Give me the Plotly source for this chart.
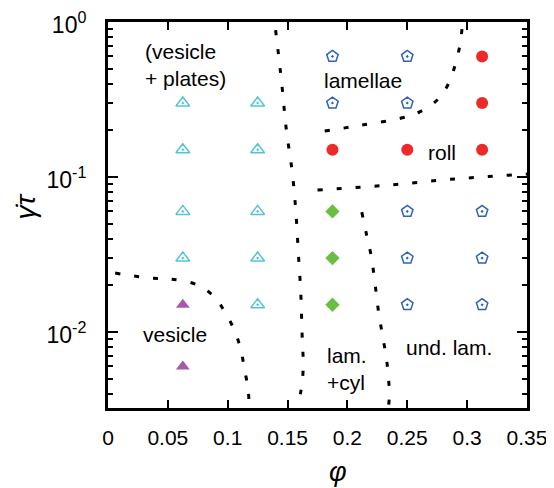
import math
import plotly.graph_objects as go

# ---------------- data ----------------
# vesicle + plates (cyan open triangles)
vp_phi = [0.0625, 0.0625, 0.0625, 0.0625, 0.125, 0.125, 0.125, 0.125, 0.125]
vp_rate = [0.3, 0.15, 0.06, 0.03, 0.3, 0.15, 0.06, 0.03, 0.015]
# vesicle (purple filled triangles)
ves_phi = [0.0625, 0.0625]
ves_rate = [0.015, 0.006]
# lamellae + cylinders (green diamonds)
lc_phi = [0.1875, 0.1875, 0.1875]
lc_rate = [0.06, 0.03, 0.015]
# lamellae / undulated lamellae (blue open pentagons)
lam_phi = [0.1875, 0.25, 0.1875, 0.25, 0.25, 0.25, 0.25, 0.3125, 0.3125, 0.3125]
lam_rate = [0.6, 0.6, 0.3, 0.3, 0.06, 0.03, 0.015, 0.06, 0.03, 0.015]
# roll (red circles)
roll_phi = [0.3125, 0.3125, 0.1875, 0.25, 0.3125]
roll_rate = [0.6, 0.3, 0.15, 0.15, 0.15]

# phase boundaries (dotted)
b1_phi = [0.140, 0.145, 0.149, 0.154, 0.157, 0.159, 0.161, 0.162, 0.163, 0.161, 0.158]
b1_rate = [0.887, 0.410, 0.201, 0.106, 0.0586, 0.0324, 0.0181, 0.0103, 0.00569, 0.0041, 0.00324]
b2_phi = [0.006, 0.035, 0.052, 0.075, 0.089, 0.098, 0.106, 0.111, 0.114, 0.117, 0.118]
b2_rate = [0.0240, 0.0223, 0.0220, 0.0201, 0.0168, 0.0133, 0.0101, 0.00766, 0.00577, 0.00429, 0.00324]
b3_phi = [0.212, 0.216, 0.220, 0.223, 0.226, 0.230, 0.233, 0.235, 0.234]
b3_rate = [0.0594, 0.0423, 0.0305, 0.0207, 0.0135, 0.00887, 0.00640, 0.00393, 0.00316]
b4_phi = [0.175, 0.212, 0.245, 0.279, 0.312, 0.350]
b4_rate = [0.0824, 0.0861, 0.0902, 0.0957, 0.100, 0.1045]
b5_phi = [0.181, 0.212, 0.245, 0.260, 0.275, 0.283, 0.289, 0.294, 0.296]
b5_rate = [0.198, 0.216, 0.240, 0.262, 0.314, 0.381, 0.498, 0.711, 0.957]

# region labels
lab_text = ["(vesicle<br>+ plates)", "lamellae", "roll", "vesicle", "lam.<br>+cyl", "und. lam."]
lab_phi = [0.029, 0.213, 0.279, 0.056, 0.181, 0.285]
lab_rate = [0.53, 0.42, 0.145, 0.0096, 0.0058, 0.0080]
lab_anchor = ["left", "center", "center", "center", "left", "center"]

x_ticks = [0, 0.05, 0.1, 0.15, 0.2, 0.25, 0.3, 0.35]
x_ticklabels = ["0", "0.05", "0.1", "0.15", "0.2", "0.25", "0.3", "0.35"]
y_ticks = [0.01, 0.1, 1]
y_ticklabels = ["10<sup>-2</sup>", "10<sup>-1</sup>", "10<sup>0</sup>"]
y_minor = [0.004, 0.005, 0.006, 0.007, 0.008, 0.009,
           0.02, 0.03, 0.04, 0.05, 0.06, 0.07, 0.08, 0.09,
           0.2, 0.3, 0.4, 0.5, 0.6, 0.7, 0.8, 0.9]

FONT = "Liberation Sans, Arial, sans-serif"

# ---------------- figure ----------------
fig = go.Figure()

for bx, by in [(b1_phi, b1_rate), (b2_phi, b2_rate), (b3_phi, b3_rate),
               (b4_phi, b4_rate), (b5_phi, b5_rate)]:
    fig.add_trace(go.Scatter(x=bx, y=by, mode="lines",
                             line=dict(color="black", width=3, dash="5px,14px", shape="spline"),
                             hoverinfo="skip", showlegend=False))

fig.add_trace(go.Scatter(x=vp_phi, y=vp_rate, mode="markers",
                         marker=dict(symbol="triangle-up-open-dot", size=12, color="#55c3d6",
                                     line=dict(width=1.5, color="#55c3d6"))))
fig.add_trace(go.Scatter(x=ves_phi, y=ves_rate, mode="markers",
                         marker=dict(symbol="triangle-up", size=12, color="#a45aa6")))
fig.add_trace(go.Scatter(x=lc_phi, y=lc_rate, mode="markers",
                         marker=dict(symbol="diamond", size=11, color="#6cbd45")))
fig.add_trace(go.Scatter(x=lam_phi, y=lam_rate, mode="markers",
                         marker=dict(symbol="pentagon-open-dot", size=12, color="#2d62b8",
                                     line=dict(width=1.5, color="#2d62b8"))))
fig.add_trace(go.Scatter(x=roll_phi, y=roll_rate, mode="markers",
                         marker=dict(symbol="circle", size=12, color="#ec2a2a")))

for t, px, py, a in zip(lab_text, lab_phi, lab_rate, lab_anchor):
    fig.add_annotation(x=px, y=math.log10(py), yref="y", xref="x", text=t, showarrow=False,
                       xanchor=a, align="left",
                       font=dict(size=21, color="black", family=FONT))

# axis titles
fig.add_annotation(x=0.55, y=-0.165, xref="paper", yref="paper", text="<i>φ</i>",
                   showarrow=False, xanchor="center", yanchor="middle",
                   font=dict(size=27, color="black", family=FONT))
fig.add_annotation(x=-0.197, y=0.523, xref="paper", yref="paper", text="<i>γ̇τ</i>",
                   showarrow=False, xanchor="center", yanchor="middle", textangle=-90,
                   font=dict(size=28, color="black", family=FONT))

# page body has an 8px default margin, so the figure is sized to fit inside the window
fig.update_layout(
    width=546, height=480,
    margin=dict(l=100, r=27, t=14, b=80),
    plot_bgcolor="white", paper_bgcolor="white",
    showlegend=False,
    font=dict(family=FONT, size=21, color="black"),
)
fig.update_xaxes(range=[0, 0.35], tickvals=x_ticks, ticktext=x_ticklabels,
                 ticks="inside", ticklen=8, tickwidth=2, tickcolor="black",
                 tickfont=dict(size=21), ticklabelstandoff=9, ticklabeloverflow="allow",
                 showline=True, linewidth=3, linecolor="black", mirror="ticks",
                 showgrid=False, zeroline=False, automargin=False)
fig.update_yaxes(type="log", range=[-2.49, 0], tickvals=y_ticks, ticktext=y_ticklabels,
                 ticks="inside", ticklen=10, tickwidth=2, tickcolor="black",
                 tickfont=dict(size=23), ticklabelshift=3, ticklabelstandoff=14,
                 ticklabeloverflow="allow",
                 minor=dict(tickvals=y_minor, ticks="inside", ticklen=5, tickwidth=2, tickcolor="black"),
                 showline=True, linewidth=3, linecolor="black", mirror="ticks",
                 showgrid=False, zeroline=False, automargin=False)

fig.write_html("out.html")
